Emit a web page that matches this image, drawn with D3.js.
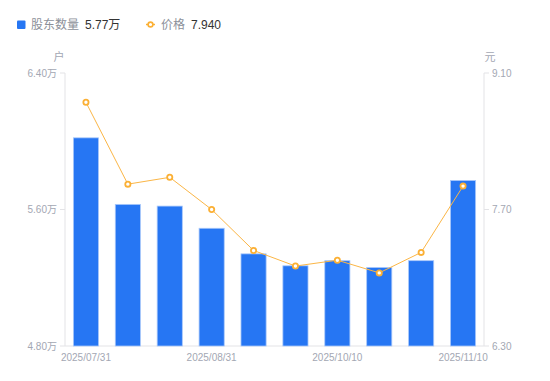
<!DOCTYPE html>
<html>
<head>
<meta charset="utf-8">
<script src="https://cdn.jsdelivr.net/npm/d3@7/dist/d3.min.js"></script>
<style>
    body { margin: 0; background: #fff; }
    svg { font-family: "Liberation Sans", "Noto Sans CJK SC", sans-serif; }
    .tick-label { fill: #a3a7b3; font-size: 10px; }
</style>
</head>
<body>
<svg id="chart" width="550" height="381"></svg>
<script>
// 报告期
const dates = ['2025/07/31', '2025/08/10', '2025/08/20', '2025/08/31', '2025/09/15',
    '2025/09/30', '2025/10/10', '2025/10/20', '2025/10/31', '2025/11/10']
// 股东数量（万户）
const holders = [6.02, 5.63, 5.62, 5.49, 5.34, 5.27, 5.30, 5.26, 5.30, 5.77]
// 价格（元）
const prices = [8.80, 7.96, 8.03, 7.70, 7.28, 7.12, 7.18, 7.05, 7.26, 7.94]
const leftTicks = [4.8, 5.6, 6.4]
const rightTicks = [6.3, 7.7, 9.1]
const shownDates = ['2025/07/31', '2025/08/31', '2025/10/10', '2025/11/10']

const svg = d3.select('#chart')
const plotLeft = 65, plotRight = 484, plotTop = 73, plotBottom = 346

const x = d3.scaleBand().domain(dates).range([plotLeft, plotRight]).paddingInner(0.4).paddingOuter(0.2)
const yL = d3.scaleLinear().domain([4.8, 6.4]).range([plotBottom, plotTop])
const yR = d3.scaleLinear().domain([6.3, 9.1]).range([plotBottom, plotTop])

// 坐标轴线
const axisColor = '#e3e3e6'
svg.append('line').attr('x1', plotLeft).attr('x2', plotLeft).attr('y1', plotTop).attr('y2', plotBottom).attr('stroke', axisColor)
svg.append('line').attr('x1', plotRight).attr('x2', plotRight).attr('y1', plotTop).attr('y2', plotBottom).attr('stroke', axisColor)
svg.append('line').attr('x1', plotLeft).attr('x2', plotRight).attr('y1', plotBottom).attr('y2', plotBottom).attr('stroke', axisColor)

// 左轴刻度
leftTicks.forEach(t => {
    svg.append('line').attr('x1', plotLeft - 5).attr('x2', plotLeft).attr('y1', yL(t)).attr('y2', yL(t)).attr('stroke', axisColor)
    svg.append('text').attr('class', 'tick-label')
        .attr('x', plotLeft - 8).attr('y', yL(t)).attr('dy', '0.35em').attr('text-anchor', 'end')
        .text(t.toFixed(2) + '万')
})
// 右轴刻度
rightTicks.forEach(t => {
    svg.append('line').attr('x1', plotRight).attr('x2', plotRight + 5).attr('y1', yR(t)).attr('y2', yR(t)).attr('stroke', axisColor)
    svg.append('text').attr('class', 'tick-label')
        .attr('x', plotRight + 8).attr('y', yR(t)).attr('dy', '0.35em')
        .text(t.toFixed(2))
})

// 单位
svg.append('text').attr('class', 'tick-label').attr('x', plotLeft - 6).attr('y', 61)
    .attr('text-anchor', 'middle').style('font-size', '11px').text('户')
svg.append('text').attr('class', 'tick-label').attr('x', plotRight + 6).attr('y', 61)
    .attr('text-anchor', 'middle').style('font-size', '11px').text('元')

// X 轴标签
shownDates.forEach(d => {
    svg.append('text').attr('class', 'tick-label')
        .attr('x', x(d) + x.bandwidth() / 2).attr('y', 361).attr('text-anchor', 'middle')
        .text(d)
})

// 柱子
svg.append('g').selectAll('rect').data(holders).join('rect')
    .attr('x', (d, i) => x(dates[i]))
    .attr('y', d => yL(d))
    .attr('width', x.bandwidth())
    .attr('height', d => plotBottom - yL(d))
    .attr('fill', '#2676f3')
    .attr('stroke', '#a9c8fa')
    .attr('stroke-width', 0.8)

// 折线
const cx = i => x(dates[i]) + x.bandwidth() / 2
const line = d3.line().x((d, i) => cx(i)).y(d => yR(d))
svg.append('path').datum(prices).attr('d', line)
    .attr('fill', 'none').attr('stroke', '#fbb646').attr('stroke-width', 1)
svg.append('g').selectAll('circle').data(prices).join('circle')
    .attr('cx', (d, i) => cx(i)).attr('cy', d => yR(d)).attr('r', 2.6)
    .attr('fill', '#fff').attr('stroke', '#fbb035').attr('stroke-width', 1.8)

// 图例
const lg = svg.append('g').style('font-size', '12px')
lg.append('rect').attr('x', 17).attr('y', 20.5).attr('width', 8.5).attr('height', 8.5).attr('rx', 1).attr('fill', '#2676f3')
lg.append('text').attr('x', 31).attr('y', 29).attr('fill', '#8c9099').text('股东数量')
lg.append('text').attr('x', 85).attr('y', 29).attr('fill', '#333').text(holders[holders.length - 1].toFixed(2) + '万')
lg.append('line').attr('x1', 146).attr('x2', 155).attr('y1', 24.5).attr('y2', 24.5).attr('stroke', '#fbb035').attr('stroke-width', 1.5)
lg.append('circle').attr('cx', 150.5).attr('cy', 24.5).attr('r', 2.4).attr('fill', '#fff').attr('stroke', '#fbb035').attr('stroke-width', 1.6)
lg.append('text').attr('x', 161).attr('y', 29).attr('fill', '#8c9099').text('价格')
lg.append('text').attr('x', 191).attr('y', 29).attr('fill', '#333').text(prices[prices.length - 1].toFixed(3))
</script>
</body>
</html>
